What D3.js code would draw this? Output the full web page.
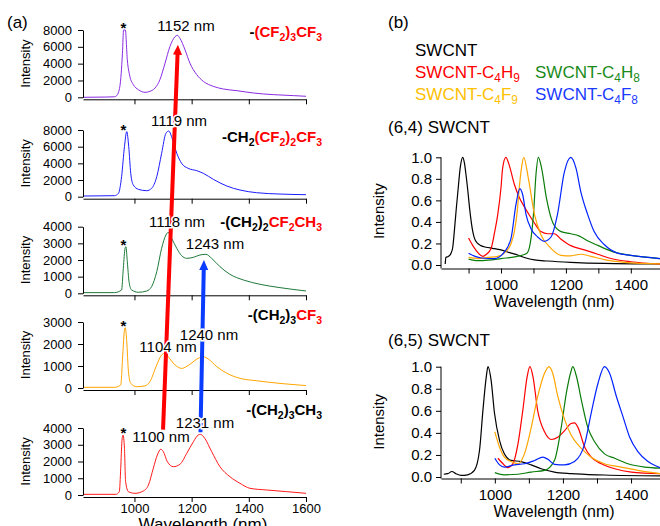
<!DOCTYPE html>
<html>
<head>
<meta charset="utf-8">
<script src="https://cdn.jsdelivr.net/npm/d3@7"></script>
<style>
body { margin: 0; background: #fff; }
svg { display: block; }
text { font-family: "Liberation Sans", Arial, Helvetica, sans-serif; }
</style>
</head>
<body>
<script>
var width = 660;
var height = 526;

// (a) PL spectra, [wavelength (nm), intensity]
var specCF2CF3 = [[820,0],[900,30],[930,60],[938,200],[949,1300],[958,5240],[962,8000],[968,8000],[975,4450],[984,2480],[996,1500],[1014,900],[1037,590],[1054,710],[1072,1100],[1089,2090],[1107,4060],[1124,6030],[1142,7210],[1150,7370],[1159,7010],[1177,5630],[1194,4060],[1218,2680],[1241,1890],[1276,1300],[1311,985],[1358,790],[1416,510],[1486,315],[1556,200],[1600,120]];
var specCH2CF2CF3 = [[820,80],[930,120],[944,400],[955,2400],[965,6000],[973,7800],[980,6000],[987,2800],[996,1400],[1014,880],[1043,720],[1060,1000],[1078,2400],[1095,5200],[1110,7600],[1120,7880],[1130,7200],[1148,5200],[1165,4000],[1188,3400],[1218,3120],[1241,2800],[1276,2080],[1323,1280],[1369,800],[1427,480],[1509,320],[1600,240]];
var specCH2CF2CH3 = [[820,40],[930,40],[955,200],[961,1500],[967,2700],[970,2800],[975,1900],[981,700],[990,200],[1014,60],[1043,140],[1060,400],[1078,1300],[1095,2700],[1110,3500],[1118,3660],[1130,3300],[1148,2700],[1165,2260],[1183,2100],[1206,2160],[1229,2300],[1250,2340],[1270,2100],[1299,1600],[1334,1140],[1381,800],[1439,540],[1509,340],[1600,140]];
var specCH2CF3 = [[820,30],[930,30],[952,140],[959,1500],[965,2640],[968,2740],[973,2100],[979,740],[987,210],[1008,60],[1037,100],[1054,290],[1078,1050],[1095,1500],[1107,1580],[1118,1420],[1142,1050],[1165,890],[1194,1080],[1223,1350],[1241,1420],[1258,1320],[1288,970],[1323,670],[1369,440],[1427,330],[1509,210],[1600,110]];
var specCH2CH3 = [[820,40],[935,40],[947,200],[952,1600],[956,3180],[960,3580],[965,2790],[969,800],[979,200],[1002,100],[1031,240],[1049,600],[1066,1600],[1080,2390],[1092,2730],[1101,2590],[1115,1990],[1136,1690],[1159,1830],[1183,2490],[1206,3180],[1223,3580],[1231,3620],[1246,3380],[1270,2590],[1299,1690],[1334,1090],[1369,700],[1404,400],[1462,300],[1532,200],[1600,100]];

var panelMax = [8000, 8000, 4000, 3000, 4000];
var panelStep = [2000, 2000, 1000, 1000, 1000];
var xTicksA = [1000, 1200, 1400, 1600];
var starNm = 965;

// group names: black part, red part ("_n" = subscript)
var groupNames = [["-", "(CF_2)_3CF_3"], ["-CH_2", "(CF_2)_2CF_3"], ["-(CH_2)_2", "CF_2CH_3"], ["-(CH_2)_3", "CF_3"], ["-(CH_2)_3CH_3", ""]];
var peakNm = [[1152], [1119], [1118, 1243], [1104, 1240], [1100, 1231]];

// arrows: [panel, wavelength, intensity]
var redArrow = [[4, 1100, 3900], [0, 1152, 6250]];
var blueArrow = [[4, 1231, 3750], [2, 1243, 2000]];

// (b) normalised PL spectra
var legendNames = ["SWCNT", "SWCNT-C_4H_9", "SWCNT-C_4H_8", "SWCNT-C_4F_9", "SWCNT-C_4F_8"];
var b64Black = [[828,0.01],[830,0.07],[838,0.08],[846,0.11],[851,0.16],[856,0.31],[862,0.52],[867,0.68],[875,0.92],[882,1.0],[887,0.95],[892,0.84],[898,0.68],[903,0.53],[913,0.31],[918,0.25],[928,0.2],[938,0.18],[954,0.165],[974,0.155],[1000,0.14],[1031,0.11],[1051,0.093],[1072,0.07],[1103,0.047],[1144,0.037],[1215,0.025],[1318,0.015],[1490,0.01]];
var b64Red = [[900,0.25],[915,0.17],[930,0.11],[944,0.08],[955,0.1],[969,0.15],[980,0.3],[990,0.47],[1000,0.72],[1005,0.9],[1015,1.0],[1025,0.93],[1041,0.75],[1056,0.63],[1072,0.54],[1088,0.46],[1103,0.39],[1123,0.31],[1144,0.29],[1164,0.29],[1185,0.24],[1215,0.18],[1257,0.14],[1298,0.1],[1339,0.06],[1400,0.03],[1490,0.01]];
var b64Orange = [[900,0.07],[930,0.06],[960,0.07],[990,0.08],[1010,0.11],[1031,0.2],[1041,0.31],[1050,0.5],[1056,0.71],[1063,0.9],[1070,1.0],[1084,0.81],[1103,0.47],[1123,0.28],[1154,0.155],[1185,0.09],[1215,0.085],[1246,0.1],[1277,0.08],[1318,0.05],[1380,0.025],[1490,0.01]];
var b64Green = [[900,0.055],[930,0.04],[960,0.045],[1000,0.06],[1050,0.08],[1080,0.11],[1090,0.2],[1100,0.47],[1108,0.85],[1115,1.0],[1125,0.9],[1140,0.62],[1160,0.39],[1185,0.31],[1215,0.29],[1240,0.27],[1270,0.22],[1300,0.18],[1330,0.14],[1360,0.11],[1400,0.09],[1490,0.06]];
var b64Blue = [[900,0.11],[920,0.08],[940,0.065],[980,0.06],[1010,0.12],[1031,0.25],[1046,0.56],[1058,0.71],[1067,0.65],[1077,0.47],[1092,0.34],[1113,0.26],[1133,0.22],[1154,0.26],[1174,0.47],[1195,0.86],[1215,1.0],[1231,0.9],[1246,0.68],[1267,0.47],[1287,0.31],[1318,0.19],[1359,0.11],[1400,0.09],[1490,0.06]];

var b65Black = [[850,0.025],[862,0.03],[874,0.05],[886,0.03],[901,0.015],[920,0.02],[940,0.06],[955,0.24],[965,0.6],[975,0.91],[980,1.0],[989,0.88],[999,0.58],[1014,0.33],[1028,0.21],[1048,0.15],[1077,0.14],[1107,0.11],[1136,0.075],[1175,0.045],[1224,0.03],[1322,0.018],[1485,0.01]];
var b65Red = [[1009,0.17],[1024,0.12],[1038,0.085],[1053,0.12],[1068,0.3],[1082,0.6],[1095,0.91],[1103,1.0],[1112,0.91],[1126,0.6],[1146,0.41],[1166,0.34],[1185,0.36],[1205,0.42],[1224,0.485],[1234,0.49],[1244,0.45],[1264,0.27],[1283,0.18],[1313,0.12],[1352,0.075],[1401,0.045],[1485,0.03]];
var b65Orange = [[1000,0.41],[1014,0.27],[1028,0.18],[1048,0.14],[1068,0.12],[1087,0.21],[1107,0.45],[1126,0.73],[1146,0.94],[1159,1.0],[1170,0.94],[1185,0.73],[1205,0.52],[1224,0.38],[1254,0.26],[1283,0.18],[1322,0.12],[1371,0.09],[1420,0.06],[1485,0.03]];
var b65Green = [[1000,0.04],[1028,0.02],[1068,0.025],[1107,0.045],[1146,0.06],[1175,0.15],[1195,0.45],[1210,0.76],[1223,0.95],[1229,1.0],[1239,0.92],[1254,0.7],[1273,0.45],[1293,0.32],[1322,0.21],[1352,0.17],[1391,0.12],[1440,0.09],[1485,0.08]];
var b65Blue = [[1000,0.17],[1014,0.11],[1028,0.09],[1058,0.11],[1087,0.12],[1117,0.15],[1141,0.18],[1156,0.16],[1175,0.115],[1205,0.11],[1234,0.14],[1264,0.3],[1283,0.58],[1303,0.85],[1322,1.0],[1337,0.94],[1357,0.73],[1376,0.55],[1396,0.36],[1420,0.23],[1450,0.14],[1485,0.085]];

var yTicksB = [0, 0.2, 0.4, 0.6, 0.8, 1.0];
var xTicksB = [900, 1000, 1100, 1200, 1300, 1400];

// ---- styles / layout
var colorsA = ["#8a2be2", "#1c1cff", "#1f7a3a", "#ffa500", "#ff1a1a"];
var colorsB = ["#000000", "#ff0000", "#0a7d0a", "#ffa500", "#0022ff"];
var legendColors = ["#000000", "#ff0000", "#1a8a1a", "#ffc000", "#1a3aff"];
var panelTop = [30, 130, 226.7, 322, 428];
var panelBottom = [97.3, 196.7, 293.3, 388, 495];
var nameBase = [37, 142, 227, 320, 415];
var peakPos = [[[186, 31]], [[179, 126]], [[177, 227], [215, 249]], [[168, 352], [209, 340]], [[161, 442], [205, 428]]];

var svg = d3.select("body").append("svg")
    .attr("width", width)
    .attr("height", height);

var xA = d3.scaleLinear().domain([820, 1600]).range([83, 306]);
var yA = panelMax.map(function(m, i) {
    return d3.scaleLinear().domain([0, m]).range([panelBottom[i], panelTop[i]]);
});

var specA = [specCF2CF3, specCH2CF2CF3, specCH2CF2CH3, specCH2CF3, specCH2CH3];

specA.forEach(function(data, i) {
    var g = svg.append("g");

    g.append("path")
        .datum(data)
        .attr("fill", "none")
        .attr("stroke", colorsA[i])
        .attr("stroke-width", 1)
        .attr("d", d3.line()
            .x(function(d) { return xA(d[0]); })
            .y(function(d) { return yA[i](d[1]); })
            .curve(d3.curveMonotoneX));

    var ya = g.append("g")
        .attr("transform", "translate(83,0)")
        .call(d3.axisLeft(yA[i])
            .tickValues(d3.range(0, panelMax[i] + 1, panelStep[i]))
            .tickSize(5).tickSizeOuter(0).tickPadding(6)
            .tickFormat(d3.format("d")));
    styleAxis(ya, 13);

    var xa = g.append("g")
        .attr("transform", "translate(0," + (panelBottom[i] + 2) + ")")
        .call(d3.axisBottom(xA)
            .tickValues(xTicksA)
            .tickSize(5).tickSizeOuter(0).tickPadding(2)
            .tickFormat(i == 4 ? d3.format("d") : function() { return ""; }));
    styleAxis(xa, 13);

    g.append("text")
        .attr("transform", "translate(30," + ((panelTop[i] + panelBottom[i]) / 2) + ") rotate(-90)")
        .attr("text-anchor", "middle")
        .style("font-size", "13px")
        .text("Intensity");

    // star over the laser / artefact peak
    var starPeak = d3.max(data.filter(function(d) { return Math.abs(d[0] - starNm) < 20; }), function(d) { return d[1]; });
    g.append("text")
        .attr("x", xA(starNm) - 1)
        .attr("y", yA[i](starPeak) + 3)
        .attr("text-anchor", "middle")
        .style("font-size", "15px")
        .style("font-weight", "bold")
        .text("*");
});

svg.append("text")
    .attr("x", 203).attr("y", 530)
    .attr("text-anchor", "middle")
    .style("font-size", "17px")
    .text("Wavelength (nm)");

svg.append("text")
    .attr("x", 7).attr("y", 28)
    .style("font-size", "17px")
    .text("(a)");

drawArrow(redArrow, "#ff0000");
drawArrow(blueArrow, "#0a3cff");

// peak labels
peakNm.forEach(function(list, i) {
    list.forEach(function(nm, j) {
        svg.append("text")
            .attr("x", peakPos[i][j][0])
            .attr("y", peakPos[i][j][1])
            .attr("text-anchor", "middle")
            .style("font-size", "15px")
            .attr("stroke", "#fff")
            .attr("stroke-width", 3)
            .attr("paint-order", "stroke")
            .text(nm + " nm");
    });
});

// group names
groupNames.forEach(function(n, i) {
    var t = svg.append("text")
        .attr("x", 322).attr("y", nameBase[i])
        .attr("text-anchor", "end")
        .style("font-size", "15px")
        .style("font-weight", "bold");
    var sub = addRich(t, n[0], "#000", 15, false);
    addRich(t, n[1], "#ff0000", 15, sub);
});

// ---- panel (b)
svg.append("text").attr("x", 388).attr("y", 28).style("font-size", "17px").text("(b)");

var legPos = [[415, 56], [415, 78], [535, 78], [415, 100], [535, 100]];
legendNames.forEach(function(n, i) {
    var t = svg.append("text")
        .attr("x", legPos[i][0]).attr("y", legPos[i][1])
        .style("font-size", "17px");
    addRich(t, n, legendColors[i], 17, false);
});

drawPanelB([b64Black, b64Red, b64Green, b64Orange, b64Blue], [815, 1490], [265, 157.3], 3.5, "(6,4) SWCNT", 133);
drawPanelB([b65Black, b65Red, b65Green, b65Orange, b65Blue], [842, 1485], [477, 366.7], 1.5, "(6,5) SWCNT", 346);

function drawPanelB(series, xDomain, yRange, axisGap, title, titleY) {
    var x = d3.scaleLinear().domain(xDomain).range([441, 660]);
    var y = d3.scaleLinear().domain([0, 1]).range(yRange);
    var g = svg.append("g");

    series.forEach(function(data, i) {
        g.append("path")
            .datum(data)
            .attr("fill", "none")
            .attr("stroke", colorsB[i])
            .attr("stroke-width", 1.2)
            .attr("d", d3.line()
                .x(function(d) { return x(d[0]); })
                .y(function(d) { return y(d[1]); })
                .curve(d3.curveMonotoneX));
    });

    var axisY = yRange[0] + axisGap;

    var ya = g.append("g")
        .attr("transform", "translate(441,0)")
        .call(d3.axisLeft(y).tickValues(yTicksB).tickSize(5).tickSizeOuter(0).tickPadding(4)
            .tickFormat(d3.format(".1f")));
    ya.select(".domain").remove();
    styleAxis(ya, 15);
    g.append("line")
        .attr("x1", 441).attr("x2", 441)
        .attr("y1", yRange[1]).attr("y2", axisY)
        .attr("stroke", "#000");

    var xa = g.append("g")
        .attr("transform", "translate(0," + axisY + ")")
        .call(d3.axisBottom(x).tickValues(xTicksB).tickSize(5).tickSizeOuter(0).tickPadding(6)
            .tickFormat(function(d) { return d % 200 == 0 ? d : ""; }));
    styleAxis(xa, 15);

    g.append("text")
        .attr("transform", "translate(384," + ((yRange[0] + yRange[1]) / 2) + ") rotate(-90)")
        .attr("text-anchor", "middle")
        .style("font-size", "15px")
        .text("Intensity");

    g.append("text")
        .attr("x", 554).attr("y", axisY + 38)
        .attr("text-anchor", "middle")
        .style("font-size", "16px")
        .text("Wavelength (nm)");

    g.append("text")
        .attr("x", 388).attr("y", titleY)
        .style("font-size", "17px")
        .text(title);
}

function styleAxis(sel, size) {
    sel.attr("font-size", size)
        .attr("font-family", "'Liberation Sans', Arial, sans-serif");
    sel.selectAll("path, line").attr("stroke", "#000");
    sel.selectAll("text").attr("fill", "#000");
}

// writes str into a text element; "_n" makes n a subscript
function addRich(sel, str, color, size, sub) {
    var re = /_(\d)|([^_]+)/g;
    var m;
    var shift = size * 0.25;
    while ((m = re.exec(str)) !== null) {
        if (m[1]) {
            sel.append("tspan").text(m[1])
                .attr("fill", color)
                .style("font-size", (size * 0.7) + "px")
                .attr("dy", sub ? 0 : shift);
            sub = true;
        } else {
            sel.append("tspan").text(m[2])
                .attr("fill", color)
                .attr("dy", sub ? -shift : 0);
            sub = false;
        }
    }
    return sub;
}

function drawArrow(pts, color) {
    var x0 = xA(pts[0][1]), y0 = yA[pts[0][0]](pts[0][2]);
    var x1 = xA(pts[1][1]), y1 = yA[pts[1][0]](pts[1][2]);
    var len = Math.sqrt((x1 - x0) * (x1 - x0) + (y1 - y0) * (y1 - y0));
    var ux = (x1 - x0) / len, uy = (y1 - y0) / len;
    var headL = 10, headW = 4.5;
    var bx = x1 - ux * headL, by = y1 - uy * headL;

    svg.append("line")
        .attr("x1", x0).attr("y1", y0)
        .attr("x2", bx + ux).attr("y2", by + uy)
        .attr("stroke", color)
        .attr("stroke-width", 4);

    svg.append("path")
        .attr("d", "M" + x1 + "," + y1 +
            "L" + (bx - uy * headW) + "," + (by + ux * headW) +
            "L" + (bx + uy * headW) + "," + (by - ux * headW) + "Z")
        .attr("fill", color);
}
</script>
</body>
</html>
